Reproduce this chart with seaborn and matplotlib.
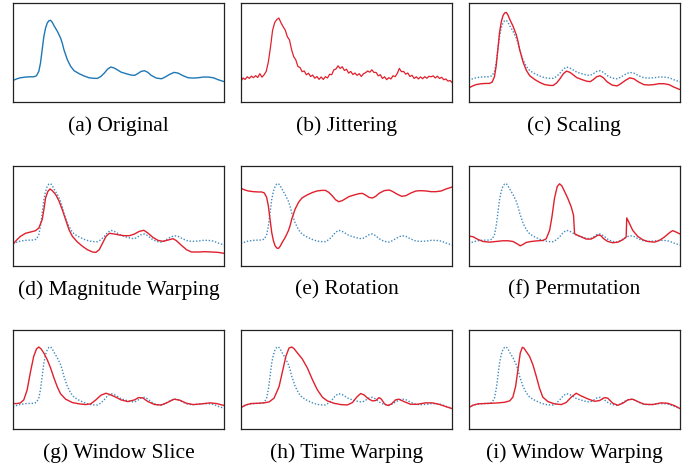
import numpy as np
import matplotlib
matplotlib.use("Agg")
import matplotlib.pyplot as plt
import seaborn as sns

# values (time 0-100, amplitude 0-100 of the frame)
orig_t = [0, 1.9, 3.5, 5.9, 8.3, 9.8, 11.1, 12.2, 13.0, 13.8, 14.6, 15.4, 16.2, 17.0, 17.8,
          18.6, 19.4, 21.0, 22.5, 23.3, 24.1, 25.7, 27.3, 28.9, 31.3, 33.7, 36.0, 38.4, 40.0,
          41.6, 43.2, 44.8, 46.3, 47.9, 49.5, 51.1, 53.5, 55.9, 57.5, 59.0, 60.6, 62.2, 63.8,
          65.4, 67.8, 70.2, 71.7, 74.1, 76.2, 78.1, 80.5, 82.9, 85.2, 87.6, 90.0, 92.4, 94.8,
          97.1, 100]
orig_v = [22.1, 23.8, 24.8, 25.5, 25.8, 25.8, 26.8, 31.2, 39.6, 53.0, 66.4, 74.8, 79.9, 82.2,
          82.6, 80.5, 77.2, 71.5, 64.8, 59.7, 53.0, 43.0, 36.2, 31.9, 28.9, 26.5, 24.8, 24.2,
          24.2, 26.2, 29.5, 33.6, 35.6, 34.6, 32.6, 30.5, 28.9, 27.5, 27.2, 28.9, 31.2, 31.9,
          30.2, 27.2, 24.5, 23.8, 25.2, 28.2, 30.2, 29.5, 26.8, 24.8, 24.5, 24.8, 25.5, 25.5,
          24.8, 22.8, 20.8]

jitter_v = [21.0, 24.6, 23.1, 25.8, 24.2, 26.4, 24.9, 26.9, 25.1, 28.9, 25.4, 27.8, 31.2, 40.5,
            55.1, 72.3, 80.2, 83.4, 84.9, 80.1, 76.2, 72.8, 66.1, 62.9, 53.2, 46.1, 42.8, 36.2,
            35.1, 30.9, 31.6, 27.8, 29.4, 26.1, 27.5, 24.3, 26.1, 23.2, 25.6, 23.1, 25.9, 24.6,
            28.3, 27.9, 32.8, 33.6, 36.8, 34.2, 35.9, 32.1, 33.4, 29.5, 31.2, 28.1, 29.6, 27.2,
            28.9, 26.1, 28.8, 29.9, 31.6, 30.4, 32.8, 30.1, 30.2, 26.7, 27.9, 24.1, 25.8, 22.9,
            24.9, 23.6, 26.8, 25.9, 29.1, 34.2, 30.9, 31.2, 28.4, 29.6, 26.1, 27.3, 24.1, 25.8,
            23.6, 25.7, 23.8, 25.9, 24.3, 26.3, 25.8, 26.7, 24.6, 26.4, 24.1, 25.3, 22.8, 23.6,
            21.4, 22.1, 19.8]

scaling_v = [14.5, 16.6, 17.9, 18.8, 19.1, 19.1, 20.4, 25.9, 36.5, 53.3, 70.2, 80.7, 87.1, 90.0,
             90.5, 87.9, 83.7, 76.6, 68.1, 61.7, 53.3, 40.8, 32.2, 26.8, 23.0, 20.0, 17.9, 17.1,
             17.1, 19.6, 23.8, 28.9, 31.5, 30.2, 27.7, 25.0, 23.0, 21.3, 20.9, 23.0, 25.9, 26.8,
             24.7, 20.9, 17.5, 16.6, 18.4, 22.1, 24.7, 23.8, 20.4, 17.9, 17.5, 17.9, 18.8, 18.8,
             17.9, 15.4, 12.9]

magwarp_t = [0, 1.9, 3.5, 5.9, 8.3, 10.6, 12.2, 13.8, 14.6, 15.4, 16.5, 17.5, 18.6, 20.2, 21.7,
             23.3, 24.9, 26.5, 28.1, 30.5, 32.9, 35.2, 37.6, 39.2, 40.8, 42.4, 44.0, 45.6, 47.9,
             50.3, 52.7, 55.1, 57.5, 59.8, 61.9, 63.8, 66.2, 68.6, 71.0, 73.3, 75.7, 77.3, 79.7,
             82.1, 84.4, 87.6, 90.8, 94.0, 97.1, 100]
magwarp_v = [21.8, 26.2, 29.5, 32.6, 33.9, 35.2, 37.9, 46.3, 56.4, 68.1, 74.8, 77.2, 75.5, 71.5,
             65.4, 56.4, 46.3, 36.2, 29.5, 23.8, 19.5, 16.1, 13.8, 13.4, 16.1, 22.8, 29.5, 32.6,
             31.9, 30.9, 30.2, 30.2, 31.9, 34.6, 35.6, 32.9, 28.5, 25.5, 24.5, 25.8, 27.2, 25.2,
             20.5, 16.1, 13.8, 13.8, 14.1, 13.8, 13.4, 12.4]

rotation_v = [77.9, 76.2, 75.2, 74.5, 74.2, 74.2, 73.2, 68.8, 60.4, 47.0, 33.6, 25.2, 20.1, 17.8,
              17.4, 19.5, 22.8, 28.5, 35.2, 40.3, 47.0, 57.0, 63.8, 68.1, 71.1, 73.5, 75.2, 75.8,
              75.8, 73.8, 70.5, 66.4, 64.4, 65.4, 67.4, 69.5, 71.1, 72.5, 72.8, 71.1, 68.8, 68.1,
              69.8, 72.8, 75.5, 76.2, 74.8, 71.8, 69.8, 70.5, 73.2, 75.2, 75.5, 75.2, 74.5, 74.5,
              75.2, 77.2, 79.2]

perm_t = [0, 2.0, 4.4, 6.8, 9.9, 13.1, 16.2, 18.6, 20.9, 23.0, 24.4, 25.7, 27.2, 29.6, 32.8,
          35.1, 36.7, 38.3, 39.4, 40.6, 41.9, 43.0, 44.1, 45.4, 46.9, 48.5, 49.6, 50.1, 51.7,
          53.5, 55.6, 57.9, 59.5, 61.1, 62.4, 63.9, 65.8, 68.2, 70.6, 72.9, 74.5, 74.8, 76.1,
          77.6, 80.0, 82.4, 84.7, 87.9, 90.2, 92.6, 95.0, 96.5, 98.1, 100]
perm_v = [29.8, 29.2, 26.4, 24.4, 23.7, 24.4, 25.1, 25.1, 24.4, 22.0, 20.0, 21.4, 23.4, 24.4,
          25.1, 25.4, 27.1, 35.6, 49.2, 67.8, 79.7, 82.4, 80.3, 74.6, 67.8, 59.3, 50.8, 32.2,
          30.5, 28.8, 26.8, 26.8, 28.5, 30.8, 30.5, 27.1, 24.4, 23.1, 23.7, 26.1, 28.8, 48.1,
          42.4, 35.6, 29.5, 26.1, 24.4, 23.7, 25.4, 28.8, 33.2, 35.3, 33.9, 31.9]

slice_t = [0, 1.9, 3.5, 5.1, 6.7, 8.3, 9.8, 11.1, 12.2, 13.3, 14.6, 16.2, 17.8, 19.4, 21.0,
           22.5, 24.9, 28.1, 31.3, 34.4, 36.8, 39.2, 41.6, 44.0, 46.3, 48.7, 51.1, 54.3, 57.5,
           59.4, 61.4, 63.8, 67.0, 70.2, 73.3, 76.2, 78.9, 82.1, 85.2, 89.2, 93.2, 96.3, 100]
slice_v = [25.6, 25.6, 26.3, 29.3, 39.4, 57.9, 73.1, 80.5, 82.5, 80.5, 76.4, 69.7, 61.3, 51.2,
           42.1, 35.4, 30.0, 26.6, 25.3, 24.6, 25.3, 29.3, 34.0, 36.0, 34.3, 32.0, 29.3, 27.6,
           29.3, 31.6, 31.3, 27.6, 24.6, 24.2, 26.9, 30.0, 29.0, 25.9, 24.6, 25.3, 26.3, 25.6,
           23.6]

timewarp_t = [0, 2.4, 4.7, 7.9, 11.0, 13.4, 15.7, 18.1, 19.7, 21.3, 22.8, 24.1, 25.2, 26.8,
              29.1, 31.5, 33.9, 36.2, 38.6, 40.9, 44.1, 47.2, 50.4, 52.8, 54.8, 56.7, 58.3,
              60.2, 62.2, 63.8, 65.4, 66.5, 68.0, 69.6, 71.3, 73.2, 74.8, 77.2, 80.3, 83.5,
              87.4, 90.6, 93.7, 96.9, 100]
timewarp_v = [21.5, 24.2, 25.6, 25.9, 26.3, 27.3, 31.0, 42.8, 57.9, 73.1, 81.5, 82.5, 80.8,
              76.4, 70.4, 61.3, 49.5, 39.4, 32.0, 28.3, 25.9, 24.6, 24.2, 26.6, 32.0, 35.7,
              34.3, 30.6, 28.3, 28.6, 31.6, 30.0, 25.3, 23.6, 25.3, 29.3, 30.0, 27.6, 24.9,
              24.9, 26.3, 26.3, 24.9, 22.6, 20.5]

winwarp_t = [0, 2.0, 4.4, 7.6, 10.7, 13.9, 17.0, 19.4, 20.9, 22.2, 23.3, 24.4, 25.4, 26.1,
             27.2, 28.8, 30.4, 32.0, 33.5, 35.1, 37.5, 40.6, 43.8, 46.1, 48.5, 50.9, 53.2,
             56.4, 59.5, 61.9, 64.3, 65.8, 68.2, 70.6, 72.9, 75.3, 77.6, 80.0, 83.1, 87.1,
             91.0, 94.2, 97.3, 100]
winwarp_v = [21.5, 23.9, 25.3, 25.6, 25.9, 26.3, 26.9, 28.3, 32.0, 42.8, 59.6, 76.4, 82.2,
             81.5, 78.1, 73.1, 64.6, 52.9, 41.1, 32.0, 27.6, 25.3, 24.6, 26.6, 32.0, 36.0,
             33.3, 30.3, 27.9, 28.6, 31.6, 31.0, 25.9, 23.9, 25.9, 29.3, 30.0, 27.6, 24.9,
             24.6, 26.3, 25.9, 23.6, 20.5]

labels = ["(a) Original", "(b) Jittering", "(c) Scaling",
          "(d) Magnitude Warping", "(e) Rotation", "(f) Permutation",
          "(g) Window Slice", "(h) Time Warping", "(i) Window Warping"]

BLUE = "#1f77b4"
RED = "#e0202c"

augmented = [
    None,
    (np.arange(len(jitter_v)), jitter_v),
    (orig_t, scaling_v),
    (magwarp_t, magwarp_v),
    (orig_t, rotation_v),
    (perm_t, perm_v),
    (slice_t, slice_v),
    (timewarp_t, timewarp_v),
    (winwarp_t, winwarp_v),
]

sns.set_style("white")
plt.rcParams["font.family"] = ["Liberation Serif", "DejaVu Serif"]

fig, axes = plt.subplots(3, 3, figsize=(6.92, 4.65), dpi=100)
fig.subplots_adjust(left=0.0188, right=0.9827, top=0.9935, bottom=0.0774,
                    wspace=0.078, hspace=0.643)

for i, ax in enumerate(axes.flat):
    aug = augmented[i]
    if i == 0:
        sns.lineplot(x=orig_t, y=orig_v, ax=ax, color=BLUE, lw=1.0)
    elif i == 1:
        sns.lineplot(x=aug[0], y=aug[1], ax=ax, color=RED, lw=0.9)
    else:
        sns.lineplot(x=orig_t, y=orig_v, ax=ax, color=BLUE, lw=1.0,
                     linestyle=(0, (1, 1.3)), alpha=0.85)
        sns.lineplot(x=aug[0], y=aug[1], ax=ax, color=RED, lw=1.0)
    ax.set_xlim(0, 100)
    ax.set_ylim(0, 100)
    ax.set_xticks([])
    ax.set_yticks([])
    ax.set_xlabel("")
    ax.set_ylabel("")
    for sp in ax.spines.values():
        sp.set_visible(True)
        sp.set_color("#222222")
        sp.set_linewidth(0.9)
    ax.text(0.5, -0.241, labels[i], transform=ax.transAxes, ha="center",
            va="center", fontsize=15.5, color="black")

fig.savefig("out.png", dpi=100)
